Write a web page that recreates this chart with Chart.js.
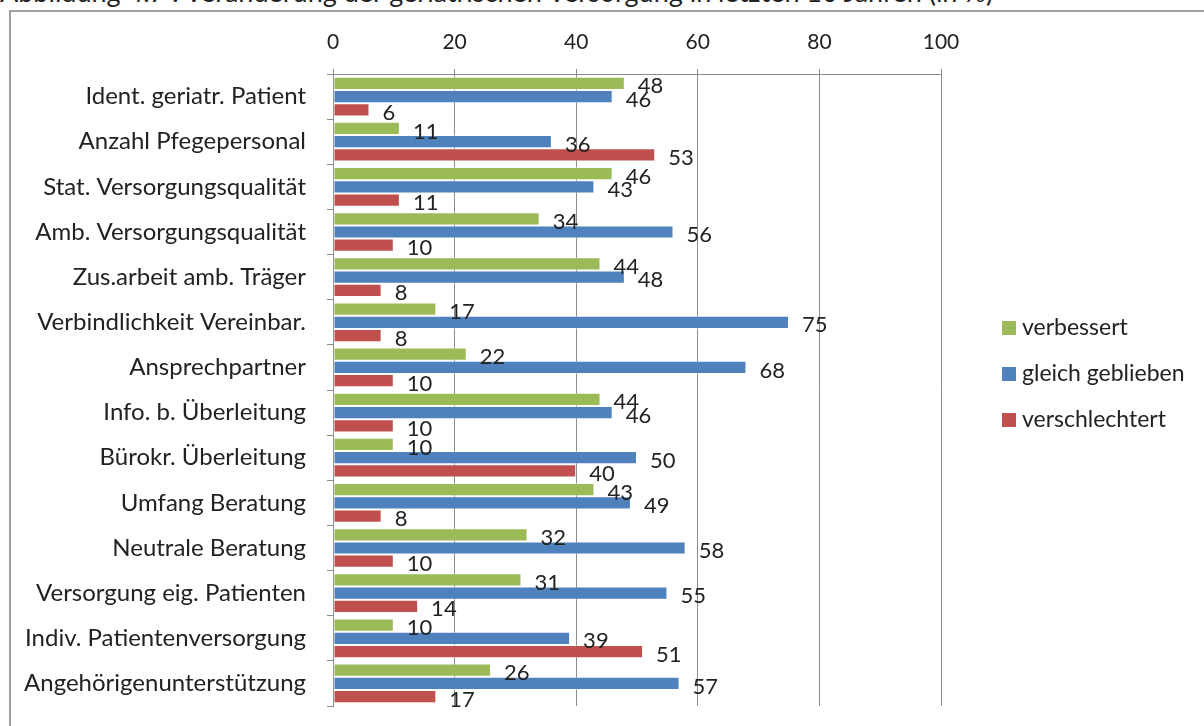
<!DOCTYPE html>
<html>
<head>
<meta charset="utf-8">
<script src="https://cdn.jsdelivr.net/npm/chart.js@4.4.1/dist/chart.umd.min.js"></script>
<style>
  body { margin: 0; background: #fff; overflow: hidden; }
  #wrap { position: relative; width: 1204px; height: 726px; overflow: hidden; font-family: Lato, sans-serif; color: #222; }
  #title { position: absolute; left: 0; top: -22px; font-size: 27px; line-height: 27px; white-space: nowrap; }
  #frame { position: absolute; left: 9px; top: 10px; width: 1300px; height: 800px; border: 2px solid #a0a0a0; }
  #chart { position: absolute; left: 0; top: 0; }
  .leg { position: absolute; left: 1002px; font-size: 23px; line-height: 23px; white-space: nowrap; }
  .leg span { display: inline-block; width: 14px; height: 14px; margin-right: 6px; vertical-align: 0px; }
</style>
</head>
<body>
<div id="wrap">
  <div id="title">Abbildung 4.7 : Veränderung der geriatrischen Versorgung in letzten 10 Jahren (in %)</div>
  <div id="frame"></div>
  <canvas id="chart" width="1204" height="726"></canvas>
  <div id="legend"></div>
</div>
<script>
const categories = [
  "Ident. geriatr. Patient",
  "Anzahl Pfegepersonal",
  "Stat. Versorgungsqualität",
  "Amb. Versorgungsqualität",
  "Zus.arbeit amb. Träger",
  "Verbindlichkeit Vereinbar.",
  "Ansprechpartner",
  "Info. b. Überleitung",
  "Bürokr. Überleitung",
  "Umfang Beratung",
  "Neutrale Beratung",
  "Versorgung eig. Patienten",
  "Indiv. Patientenversorgung",
  "Angehörigenunterstützung"
];
const verbessert     = [48, 11, 46, 34, 44, 17, 22, 44, 10, 43, 32, 31, 10, 26];
const gleichGeblieben = [46, 36, 43, 56, 48, 75, 68, 46, 50, 49, 58, 55, 39, 57];
const verschlechtert = [6, 53, 11, 10, 8, 8, 10, 10, 40, 8, 10, 14, 51, 17];
const seriesNames = ["verbessert", "gleich geblieben", "verschlechtert"];
const seriesColors = ["#9bbb59", "#4f81bd", "#c0504d"];
const xTicks = [0, 20, 40, 60, 80, 100];

const FONT = "Lato, sans-serif";
const GRID = "#8c8c8c";

// value labels next to the end of every bar
const valueLabels = {
  id: 'valueLabels',
  afterDatasetsDraw(chart) {
    const ctx = chart.ctx;
    ctx.save();
    ctx.font = "22px " + FONT;
    ctx.fillStyle = "#222";
    ctx.textAlign = "left";
    ctx.textBaseline = "middle";
    chart.data.datasets.forEach((ds, i) => {
      chart.getDatasetMeta(i).data.forEach((bar, j) => {
        ctx.fillText(String(ds.data[j]), bar.x + 13, bar.y + 3);
      });
    });
    ctx.restore();
  }
};

const datasets = [verbessert, gleichGeblieben, verschlechtert].map((d, i) => ({
  label: seriesNames[i],
  data: d,
  backgroundColor: seriesColors[i],
  borderColor: "rgba(255,255,255,0.45)",
  borderWidth: 1,
  borderSkipped: false,
  categoryPercentage: 0.88,
  barPercentage: 1.0
}));

new Chart(document.getElementById('chart'), {
  type: 'bar',
  data: { labels: categories, datasets: datasets },
  plugins: [valueLabels],
  options: {
    indexAxis: 'y',
    responsive: false,
    animation: false,
    layout: { padding: { left: 0, top: 0, right: 263, bottom: 20 } },
    plugins: { legend: { display: false }, tooltip: { enabled: false } },
    scales: {
      x: {
        position: 'top',
        min: 0, max: 100,
        afterBuildTicks: s => { s.ticks = xTicks.map(v => ({ value: v })); },
        afterFit: s => { s.height = 74; },
        grid: { color: GRID, lineWidth: 1, tickLength: 5 },
        border: { color: GRID, width: 1 },
        ticks: { font: { family: FONT, size: 21 }, color: "#222", padding: 14, maxRotation: 0 }
      },
      y: {
        afterFit: s => { s.width = 333; s.paddingTop = 0; s.paddingBottom = 0; },
        grid: { drawOnChartArea: false, color: GRID, tickLength: 6, offset: true },
        border: { color: GRID, width: 1 },
        ticks: { font: { family: FONT, size: 24 }, color: "#222", padding: 21, autoSkip: false }
      }
    }
  }
});

// legend at the right side of the plot
const legend = document.getElementById('legend');
seriesNames.forEach((name, i) => {
  const row = document.createElement('div');
  row.className = 'leg';
  row.style.top = (315 + i * 46) + 'px';
  row.innerHTML = '<span style="background:' + seriesColors[i] + '"></span>' + name;
  legend.appendChild(row);
});
</script>
</body>
</html>
